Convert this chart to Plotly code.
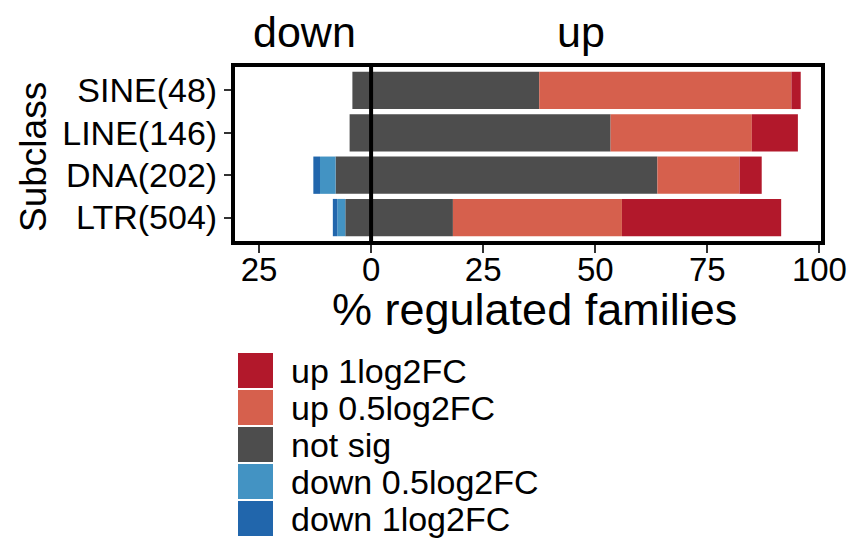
import plotly.graph_objects as go

# Subclasses, bottom to top
subclasses = ["LTR(504)", "DNA(202)", "LINE(146)", "SINE(48)"]
positions = [1, 2, 3, 4]

# Percent of families per regulation class
down_1 = [0.99, 1.49, 0.0, 0.0]
down_05 = [1.79, 3.47, 0.0, 0.0]
not_sig_left = [5.75, 7.92, 4.79, 4.17]
not_sig_right = [18.25, 63.86, 53.42, 37.50]
up_05 = [37.70, 18.32, 31.51, 56.25]
up_1 = [35.52, 4.95, 10.27, 2.08]

x_tickvals = [-25, 0, 25, 50, 75, 100]
x_ticktext = ["25", "0", "25", "50", "75", "100"]

legend_names = ["up 1log2FC", "up 0.5log2FC", "not sig", "down 0.5log2FC", "down 1log2FC"]
legend_colors = ["#B2182B", "#D6604D", "#4D4D4D", "#4393C3", "#2166AC"]
colors = dict(zip(legend_names, legend_colors))

FONT = "Liberation Sans, Arial, sans-serif"
W, H = 849, 539
L, R, T, B = 233, 26, 65, 296
PW, PH = W - L - R, H - T - B


def px_x(px):
    return (px - L) / PW


def px_y(py):
    return (H - B - py) / PH


BAR_W = 0.88

ns_total = [a + b for a, b in zip(not_sig_left, not_sig_right)]
ns_base = [-a for a in not_sig_left]
d05_base = [-(a + b) for a, b in zip(not_sig_left, down_05)]
d1_base = [-(a + b + c) for a, b, c in zip(not_sig_left, down_05, down_1)]
up05_base = list(not_sig_right)
up1_base = [a + b for a, b in zip(not_sig_right, up_05)]

fig = go.Figure()
segments = [
    ("not sig", ns_total, ns_base),
    ("down 0.5log2FC", down_05, d05_base),
    ("down 1log2FC", down_1, d1_base),
    ("up 0.5log2FC", up_05, up05_base),
    ("up 1log2FC", up_1, up1_base),
]
for name, vals, base in segments:
    fig.add_trace(go.Bar(
        y=positions, x=vals, base=base, orientation="h", width=BAR_W,
        marker=dict(color=colors[name], line=dict(width=0)),
        name=name, showlegend=False,
    ))

fig.update_layout(
    width=W, height=H,
    margin=dict(l=L, r=R, t=T, b=B, pad=0),
    barmode="overlay",
    plot_bgcolor="white", paper_bgcolor="white",
    font=dict(family=FONT, color="black"),
    xaxis=dict(
        range=[-30.8, 100.8], tickvals=x_tickvals, ticktext=x_ticktext,
        showgrid=False, zeroline=False, showline=False, automargin=False,
        ticks="outside", ticklen=9, tickwidth=2, tickcolor="#333333",
        ticklabeloverflow="allow", ticklabelstandoff=-12,
        tickfont=dict(size=33, color="black", family=FONT),
    ),
    yaxis=dict(
        range=[0.4, 4.6], tickvals=positions, ticktext=subclasses,
        showgrid=False, zeroline=False, showline=False, automargin=False,
        ticks="outside", ticklen=8, tickwidth=2, tickcolor="#333333",
        tickfont=dict(size=34, color="black", family=FONT),
    ),
)

# zero line and panel frame
fig.add_shape(type="line", xref="x", yref="paper", x0=0, x1=0, y0=0, y1=1,
              line=dict(color="black", width=4))
fig.add_shape(type="rect", xref="paper", yref="paper", x0=0, x1=1, y0=0, y1=1,
              line=dict(color="black", width=4))

# direction headers and axis titles
fig.add_annotation(text="down", x=px_x(304), y=px_y(32), xref="paper", yref="paper",
                   showarrow=False, font=dict(size=43, family=FONT),
                   xanchor="center", yanchor="middle")
fig.add_annotation(text="up", x=px_x(581), y=px_y(32), xref="paper", yref="paper",
                   showarrow=False, font=dict(size=43, family=FONT),
                   xanchor="center", yanchor="middle")
fig.add_annotation(text="% regulated families", x=px_x(534), y=px_y(309),
                   xref="paper", yref="paper", showarrow=False,
                   font=dict(size=45, family=FONT), xanchor="center", yanchor="middle")
fig.add_annotation(text="Subclass", x=px_x(33), y=px_y(157), xref="paper", yref="paper",
                   showarrow=False, textangle=-90, font=dict(size=37, family=FONT),
                   xanchor="center", yanchor="middle")

# legend keys below the panel
key_top = 353
key_pitch = 37
key_h = 35
for i, (name, col) in enumerate(zip(legend_names, legend_colors)):
    y0 = key_top + i * key_pitch
    fig.add_shape(type="rect", xref="paper", yref="paper",
                  x0=px_x(238), x1=px_x(273), y0=px_y(y0 + key_h), y1=px_y(y0),
                  fillcolor=col, line=dict(width=0))
    fig.add_annotation(text=name, x=px_x(289), y=px_y(y0 + key_h / 2),
                       xref="paper", yref="paper", showarrow=False,
                       font=dict(size=34, family=FONT),
                       xanchor="left", yanchor="middle")

fig.write_html("out.html")
